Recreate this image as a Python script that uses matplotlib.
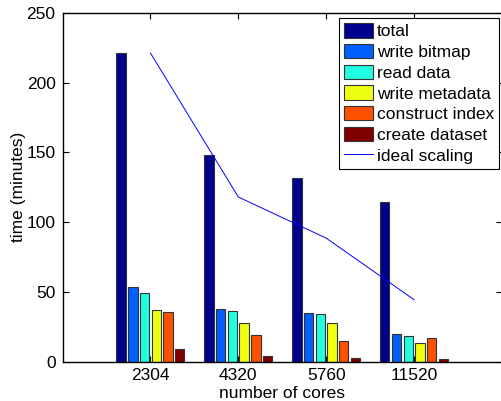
import numpy as np
import matplotlib
matplotlib.use("Agg")
import matplotlib.pyplot as plt

cores = ["2304", "4320", "5760", "11520"]
series = ["total", "write bitmap", "read data", "write metadata",
          "construct index", "create dataset"]

total = [221.3, 148.1, 131.6, 114.6]
write_bitmap = [53.7, 37.7, 34.6, 19.9]
read_data = [49.4, 36.2, 34.1, 18.3]
write_metadata = [36.9, 27.8, 27.4, 13.3]
construct_index = [35.7, 18.9, 14.5, 16.6]
create_dataset = [9.2, 4.2, 2.7, 1.8]
ideal_scaling = [221.3, 118.0, 88.5, 44.3]

# jet(64) entries picked by matlab for 6 series
colors = [(0, 0, 0.5625), (0, 0.375, 1), (0.125, 1, 0.875),
          (0.9375, 1, 0.0625), (1, 0.3125, 0), (0.5, 0, 0)]

plt.rcParams["font.family"] = ["Liberation Sans", "DejaVu Sans"]
plt.rcParams["font.size"] = 12.5

fig = plt.figure(figsize=(5.01, 4.01), dpi=100)
ax = fig.add_axes([0.1248, 0.0985, 0.8772, 0.8691])

data = [total, write_bitmap, read_data, write_metadata, construct_index, create_dataset]
x = np.arange(1, len(cores) + 1)
n = len(data)
group = 0.8
w = group / n * 0.8
handles = []
for i, (vals, name) in enumerate(zip(data, series)):
    off = (i - (n - 1) / 2) * group / n
    b = ax.bar(x + off, vals, w, color=colors[i], edgecolor="#333333",
               linewidth=0.8, label=name, zorder=2)
    handles.append(b)

line, = ax.plot(x, ideal_scaling, color="blue", linewidth=0.7,
                label="ideal scaling", zorder=3)
handles.append(line)

ax.set_xlim(0, 5)
ax.set_ylim(0, 250)
ax.set_xticks(x)
ax.set_xticklabels(cores)
ax.set_yticks([0, 50, 100, 150, 200, 250])
ax.tick_params(direction="in", top=True, right=True, length=4, width=0.8,
               pad=5, colors="black")
for s in ax.spines.values():
    s.set_linewidth(1.0)
    s.set_color("black")

ax.set_xlabel("number of cores", labelpad=2)
ax.set_ylabel("time (minutes)", labelpad=0)

leg = ax.legend(handles=handles, loc="upper right",
                bbox_to_anchor=(499 / 501, 1 - 18 / 401),
                bbox_transform=fig.transFigure, borderaxespad=0,
                fancybox=False, framealpha=1, edgecolor="black",
                handlelength=1.65, handleheight=0.9, handletextpad=0.2,
                labelspacing=0.26, borderpad=0.3)
leg.get_frame().set_linewidth(0.8)

fig.savefig("out.png", dpi=100)
